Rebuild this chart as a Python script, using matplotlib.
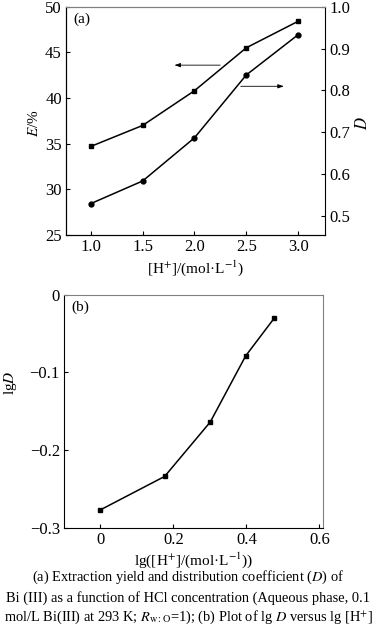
import matplotlib
matplotlib.use("Agg")
import matplotlib.pyplot as plt

# ---- data ----
h_conc = [1.0, 1.5, 2.0, 2.5, 3.0]
E_pct = [34.7, 37.0, 40.8, 45.5, 48.4]
D_vals = [0.530, 0.584, 0.687, 0.837, 0.933]
lg_h = [0.0, 0.176, 0.301, 0.398, 0.477]
lg_D = [-0.277, -0.234, -0.164, -0.079, -0.030]

x_ticks_a = [1.0, 1.5, 2.0, 2.5, 3.0]
yl_ticks_a = [25, 30, 35, 40, 45, 50]
yr_ticks_a = [0.5, 0.6, 0.7, 0.8, 0.9, 1.0]
x_ticks_b = [0, 0.2, 0.4, 0.6]
y_ticks_b = [-0.3, -0.2, -0.1, 0]

plt.rcParams['font.family'] = ['Liberation Serif', 'DejaVu Serif']
plt.rcParams['mathtext.fontset'] = 'stix'
plt.rcParams['font.size'] = 10

W, H = 376, 633
fig = plt.figure(figsize=(W / 100, H / 100), dpi=100)

def box(l, t, r, b):
    return [l / W, 1 - b / H, (r - l) / W, (b - t) / H]

grey = '#808080'
TL = 12
tick_kw = dict(direction='in', length=3, width=0.8, labelsize=TL, pad=3)

# ---- panel (a) ----
ax = fig.add_axes(box(66, 6.7, 325, 235))
ax.plot(h_conc, E_pct, '-s', color='black', lw=1.1, ms=3.3)
ax.set_xlim(0.76, 3.26)
ax.set_ylim(25, 50)
ax.set_xticks(x_ticks_a)
ax.set_xticklabels([f"{v:.1f}" for v in x_ticks_a])
ax.set_yticks(yl_ticks_a)
ax.tick_params(axis='both', **tick_kw)
ax.tick_params(axis='y', right=False)
ax.spines['top'].set_color(grey)
ax.spines['right'].set_visible(False)
for s in ['left', 'bottom', 'top']:
    ax.spines[s].set_linewidth(0.8)
ax.set_ylabel('$E$/%', fontsize=11)
ax.yaxis.set_label_coords(-0.095, 0.49)
ax.set_xlabel('[H$^{+}$]/(mol·L$^{-1}$)', fontsize=11, labelpad=2)
ax.text(0.03, 0.975, '(a)', transform=ax.transAxes, ha='left', va='top', fontsize=11)
ax.annotate('', xy=(1.78, 43.6), xytext=(2.275, 43.6),
            arrowprops=dict(arrowstyle='-|>,head_length=0.35,head_width=0.12', lw=0.6, color='black'))

ax2 = ax.twinx()
ax2.plot(h_conc, D_vals, '-o', color='black', lw=1.1, ms=3.5)
ax2.set_ylim(0.455, 1.0)
ax2.set_yticks(yr_ticks_a)
ax2.set_yticklabels([f"{v:.1f}" for v in yr_ticks_a])
ax2.tick_params(axis='y', **tick_kw)
ax2.spines['right'].set_linewidth(0.8)
ax2.spines['top'].set_color(grey)
ax2.set_ylabel('$D$', fontsize=12)
ax2.yaxis.set_label_coords(1.115, 0.49)
ax2.annotate('', xy=(2.89, 0.81), xytext=(2.42, 0.81),
             arrowprops=dict(arrowstyle='-|>,head_length=0.35,head_width=0.12', lw=0.6, color='black'))

# ---- panel (b) ----
bx = fig.add_axes(box(64, 294.5, 323, 527.7))
bx.plot(lg_h, lg_D, '-s', color='black', lw=1.1, ms=3.3)
bx.set_xlim(-0.1, 0.61)
bx.set_ylim(-0.3, 0)
bx.set_xticks(x_ticks_b)
bx.set_xticklabels(['0', '0.2', '0.4', '0.6'])
bx.set_yticks(y_ticks_b)
bx.set_yticklabels(['\u22120.3', '\u22120.2', '\u22120.1', '0'])
bx.tick_params(axis='both', **tick_kw)
bx.spines['top'].set_color(grey)
bx.spines['right'].set_color(grey)
for s in bx.spines.values():
    s.set_linewidth(0.8)
bx.set_ylabel('lg$D$', fontsize=11)
bx.yaxis.set_label_coords(-0.172, 0.62)
bx.set_xlabel('lg([H$^{+}$]/(mol·L$^{-1}$))', fontsize=11, labelpad=2)
bx.text(0.03, 0.975, '(b)', transform=bx.transAxes, ha='left', va='top', fontsize=11)

# ---- caption ----
cap = ["(a) Extraction yield and distribution coefficient ($D$) of",
       "Bi (III) as a function of HCl concentration (Aqueous phase, 0.1",
       "mol/L Bi(III) at 293 K; $R_{\\mathrm{w:O}}$=1); (b) Plot of lg $D$ versus lg [H$^{+}$]"]
cap_y = [577.5, 598, 617]
for line, yy in zip(cap, cap_y):
    fig.text(0.5, 1 - yy / H, line, ha='center', va='center', fontsize=10.4)

fig.savefig('out.png', dpi=100)
